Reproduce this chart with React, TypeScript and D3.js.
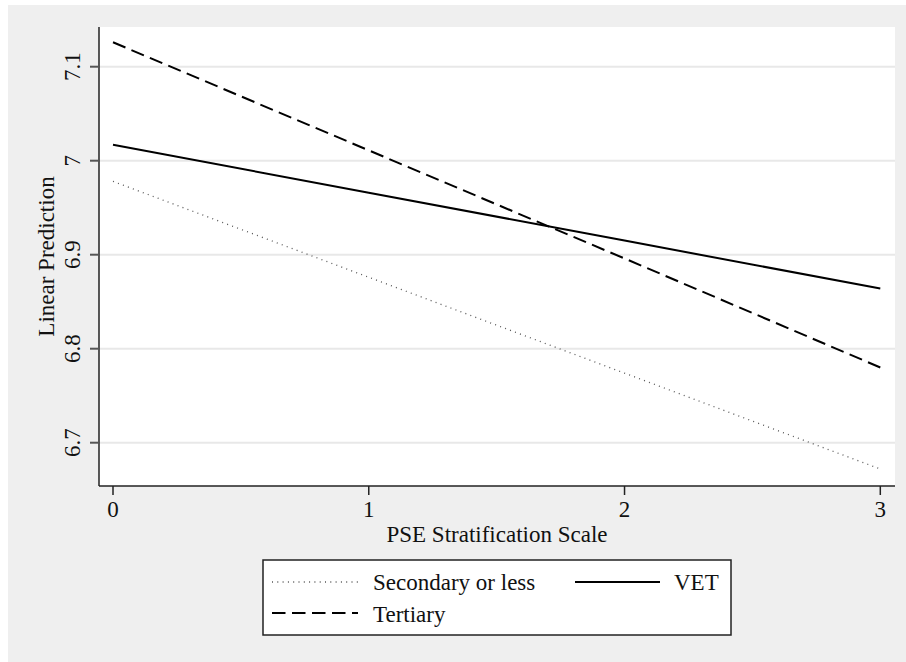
import React from "react";
import * as d3 from "d3";

const xValues = [0, 1, 2, 3];
const secondary = [6.978, 6.876, 6.774, 6.672];
const vet = [7.017, 6.966, 6.915, 6.864];
const tertiary = [7.126, 7.011, 6.896, 6.78];
const yTicks = [6.7, 6.8, 6.9, 7.0, 7.1];
const yTickLabels = ["6.7", "6.8", "6.9", "7", "7.1"];
const xTicks = [0, 1, 2, 3];
const xTickLabels = ["0", "1", "2", "3"];
const seriesNames = ["Secondary or less", "VET", "Tertiary"];

const W = 906;
const H = 662;
const plot = { left: 99, right: 895, top: 27, bottom: 486 };
const FONT = "Liberation Serif, Times New Roman, serif";
const FS = 23;

export default function App() {
  const x = d3.scaleLinear().domain([0, 3]).range([113, 880.3]);
  const y = d3.scaleLinear().domain([6.7, 7.1]).range([442.7, 66.7]);
  const line = d3
    .line<number>()
    .x((_, i) => x(xValues[i]))
    .y((d) => y(d));

  const styles = [
    { data: secondary, stroke: "#555", width: 1.3, dash: "1 4.3" },
    { data: vet, stroke: "#000", width: 2, dash: undefined },
    { data: tertiary, stroke: "#000", width: 2, dash: "13.5 6.5" },
  ];

  return (
    <svg
      width={W}
      height={H}
      style={{ position: "absolute", left: 0, top: 0, fontFamily: FONT }}
    >
      <rect x={0} y={0} width={W} height={H} fill="#fff" />
      <rect x={8} y={5} width={W - 8} height={H - 5} fill="#efefef" />
      <rect
        x={plot.left}
        y={plot.top}
        width={plot.right - plot.left}
        height={plot.bottom - plot.top}
        fill="#fff"
      />
      {yTicks.map((t) => (
        <line
          key={"g" + t}
          x1={plot.left}
          x2={plot.right}
          y1={y(t)}
          y2={y(t)}
          stroke="#e8e8e8"
          strokeWidth={2}
        />
      ))}
      {styles.map((s, i) => (
        <path
          key={"l" + i}
          d={line(s.data) || ""}
          fill="none"
          stroke={s.stroke}
          strokeWidth={s.width}
          strokeDasharray={s.dash}
        />
      ))}
      <line x1={plot.left} x2={plot.left} y1={plot.top} y2={plot.bottom} stroke="#222" strokeWidth={1.5} />
      <line x1={plot.left} x2={plot.right} y1={plot.bottom} y2={plot.bottom} stroke="#222" strokeWidth={1.5} />
      {yTicks.map((t, i) => (
        <g key={"yt" + t}>
          <line x1={90} x2={plot.left} y1={y(t)} y2={y(t)} stroke="#555" strokeWidth={2} />
          <text
            transform={`translate(80,${y(t)}) rotate(-90)`}
            textAnchor="middle"
            fontSize={FS}
            fill="#111"
          >
            {yTickLabels[i]}
          </text>
        </g>
      ))}
      {xTicks.map((t, i) => (
        <g key={"xt" + t}>
          <line x1={x(t)} x2={x(t)} y1={plot.bottom} y2={495} stroke="#222" strokeWidth={1.5} />
          <text x={x(t)} y={517} textAnchor="middle" fontSize={FS} fill="#111">
            {xTickLabels[i]}
          </text>
        </g>
      ))}
      <text
        transform={`translate(54,${(plot.top + plot.bottom) / 2}) rotate(-90)`}
        textAnchor="middle"
        fontSize={FS}
        fill="#111"
      >
        Linear Prediction
      </text>
      <text x={(plot.left + plot.right) / 2} y={542} textAnchor="middle" fontSize={FS} fill="#111">
        PSE Stratification Scale
      </text>
      <rect x={263} y={560} width={468} height={75} fill="#fff" stroke="#222" strokeWidth={1.5} />
      <line x1={272} x2={358} y1={582} y2={582} stroke="#555" strokeWidth={1.3} strokeDasharray="1 4.3" />
      <text x={373} y={590} fontSize={FS} fill="#111">{seriesNames[0]}</text>
      <line x1={575} x2={660} y1={582} y2={582} stroke="#000" strokeWidth={2} />
      <text x={674} y={590} fontSize={FS} fill="#111">{seriesNames[1]}</text>
      <line x1={272} x2={358} y1={613} y2={613} stroke="#000" strokeWidth={2} strokeDasharray="13.5 6.5" />
      <text x={373} y={622} fontSize={FS} fill="#111">{seriesNames[2]}</text>
    </svg>
  );
}
